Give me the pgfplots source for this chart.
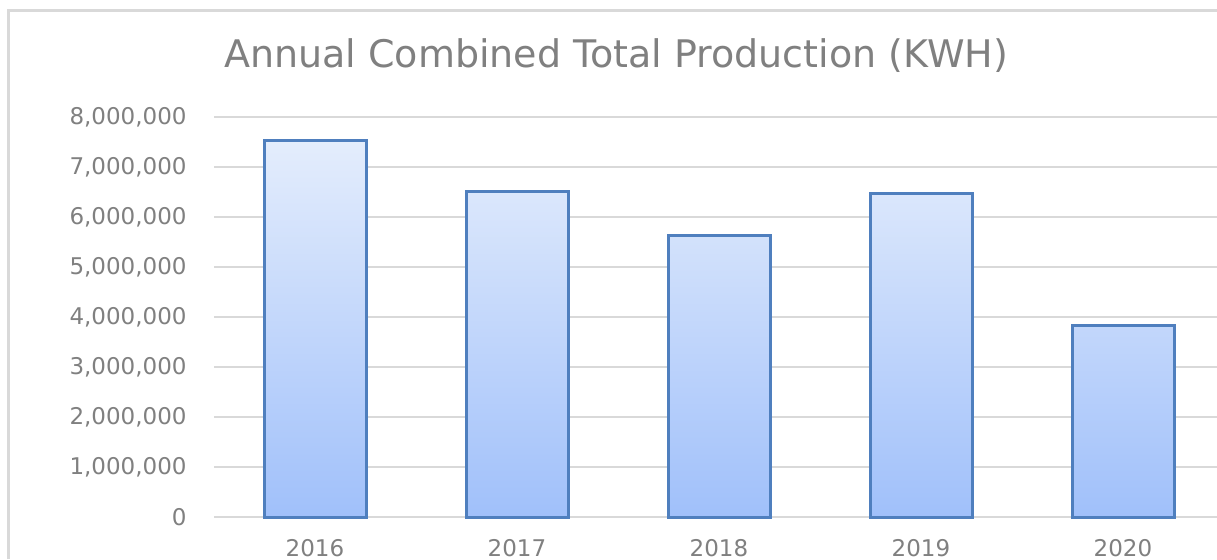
\documentclass[border=0pt]{standalone}
\usepackage{fontspec}
\setmainfont{DejaVu Sans}
\usepackage{pgfplots}
\pgfplotsset{compat=1.18}
\definecolor{txtgray}{RGB}{128,128,128}
\definecolor{gridgray}{RGB}{217,217,217}
\definecolor{barborder}{RGB}{79,127,190}
\definecolor{bartop}{RGB}{228,237,252}
\definecolor{barbottom}{RGB}{160,192,250}
\begin{document}
\begin{tikzpicture}
\path[use as bounding box] (0,0) rectangle (608.5pt,279.5pt);
\clip (0,0) rectangle (608.5pt,279.5pt);
\fill[white] (0,0) rectangle (608.5pt,279.5pt);
\draw[gridgray, line width=1.5pt] (4pt,0) -- (4pt,274.5pt) -- (620pt,274.5pt);
\node[txtgray, font=\fontsize{19}{23}\selectfont] at (308pt,251.5pt) {Annual Combined Total Production (KWH)};
\begin{axis}[
  at={(107pt,21pt)}, anchor=south west,
  scale only axis, width=505pt, height=200pt,
  xmin=-0.5, xmax=4.5, ymin=0, ymax=8000000,
  ybar, bar width=51pt,
  xtick={0,1,2,3,4}, xticklabels={2016,2017,2018,2019,2020},
  ytick={0,1000000,...,8000000},
  scaled y ticks=false,
  /pgf/number format/.cd, fixed, 1000 sep={,}, assume math mode=true,
  /pgfplots/.cd,
  ymajorgrids, grid style={gridgray, line width=1pt},
  major tick length=0pt,
  axis line style={draw=none},
  clip=false,
  tick label style={txtgray, font=\fontsize{11.5}{13}\selectfont, inner sep=0pt},
  yticklabel style={anchor=east, xshift=-13.5pt},
  xticklabel style={anchor=north, yshift=-11pt},
]
\addplot[draw=barborder, line width=1.5pt, shading=axis, top color=bartop, bottom color=barbottom]
  coordinates {(0,7540000) (1,6510000) (2,5640000) (3,6470000) (4,3840000)};
\end{axis}
\end{tikzpicture}
\end{document}
